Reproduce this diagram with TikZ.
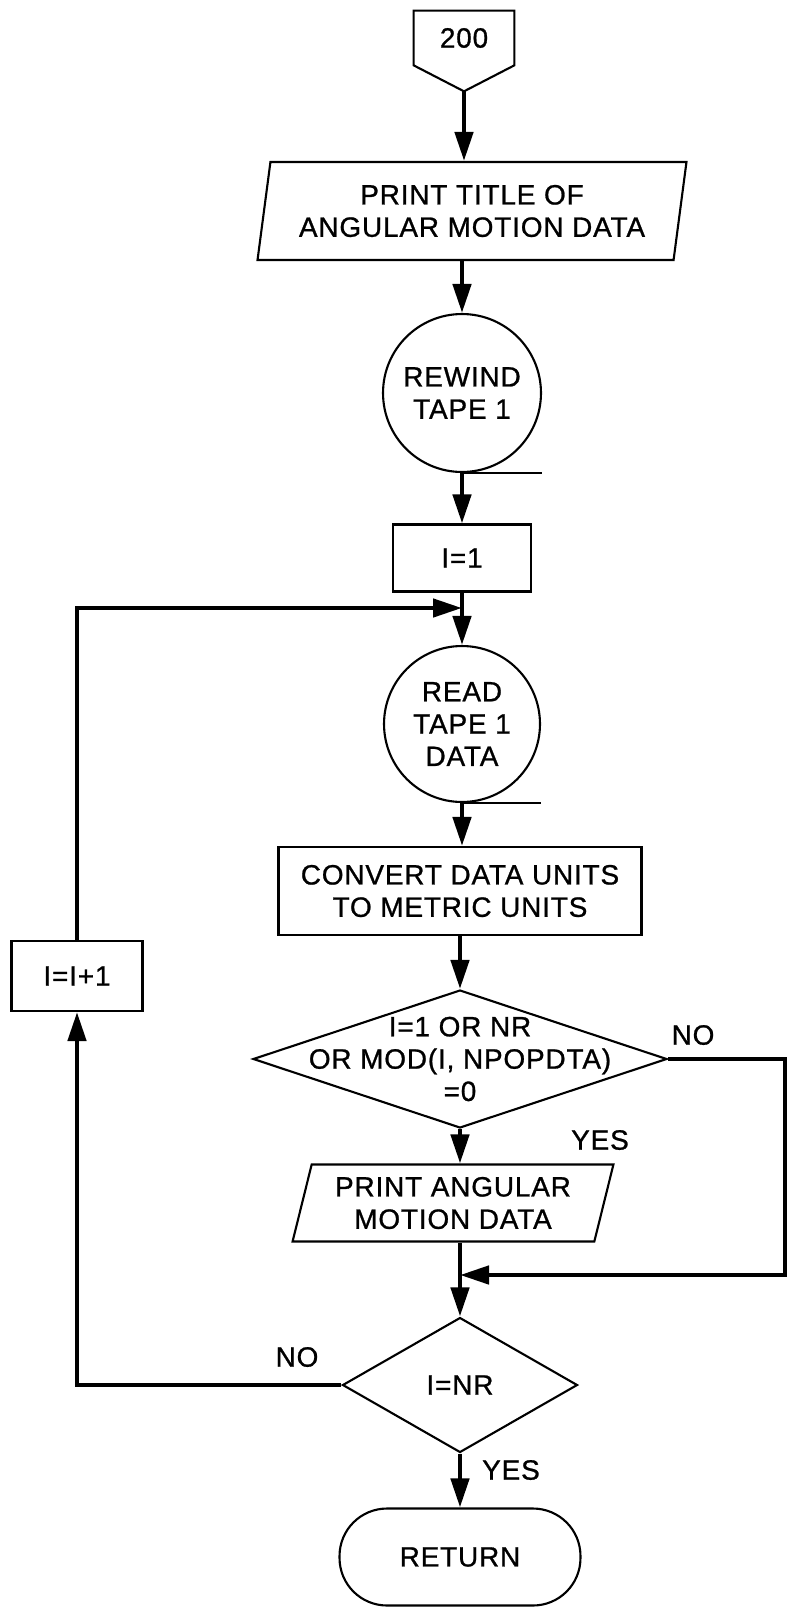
\documentclass[tikz,border=0pt]{standalone}
\usepackage{fontspec}
\setmainfont[LetterSpace=3, FakeBold=0.9]{Liberation Sans}
\usepackage{tikz}
\usetikzlibrary{shapes.geometric, arrows.meta}
\newcommand{\flowfont}{\fontsize{15.9}{18.4}\selectfont}

\begin{document}
\begin{tikzpicture}[
    x=0.02cm, y=-0.02cm,
    txt/.style={inner sep=0pt, align=center, font=\flowfont},
    box/.style={txt, draw, line width=1.2pt},
    io/.style={box, trapezium, trapezium stretches=true},
    tape/.style={box, circle},
    decision/.style={box, diamond},
    terminal/.style={box, rounded corners=0.95cm},
    rim/.style={line width=1.2pt},
    arr/.style={-{Triangle[length=0.58cm, width=0.36cm]}, line width=2.6pt}
  ]
  \useasboundingbox (0,0) rectangle (789,1609);
  % main column
  \node[txt, minimum width=2cm, minimum height=1.08cm] (entry) at (464,38) {200};
  \coordinate (entrytip) at ([yshift=-0.52cm]entry.south);
  \draw[rim] (entry.north west) -- (entry.north east) -- (entry.south east) -- (entrytip) -- (entry.south west) -- cycle;
  \node[io, trapezium left angle=78, trapezium right angle=102, minimum width=8.6cm, minimum height=1.96cm] (title) at (472,211) {PRINT TITLE OF\\ANGULAR MOTION DATA};
  \node[tape, minimum size=3.16cm] (rewind) at (462,393) {REWIND\\TAPE 1};
  \node[box, minimum width=2.76cm, minimum height=1.34cm] (init) at (462,558) {I=1};
  \node[tape, minimum size=3.12cm] (readin) at (462,724) {READ\\TAPE 1\\DATA};
  \node[box, minimum width=7.26cm, minimum height=1.76cm] (convert) at (460,891) {CONVERT DATA UNITS\\TO METRIC UNITS};
  \node[decision, minimum width=8.28cm, minimum height=2.76cm,
        label={[txt]center:{I=1 OR NR\\OR MOD(I, NPOPDTA)\\=0}}] (test1) at (460,1059) {};
  \node[io, trapezium left angle=73, trapezium right angle=107, minimum width=6.42cm, minimum height=1.54cm] (output) at (453,1203) {PRINT ANGULAR\\MOTION DATA};
  \node[decision, minimum width=4.7cm, minimum height=2.7cm] (test2) at (460,1385) {I=NR};
  \node[terminal, minimum width=4.82cm, minimum height=1.94cm] (retn) at (460,1557) {RETURN};
  % loop counter
  \node[box, minimum width=2.62cm, minimum height=1.4cm] (incr) at (77,976) {I=I+1};
  \coordinate (loopin) at (462,608);
  \coordinate (merge) at (460,1275);
  % branch labels
  \node[txt] (no1) at (693,1035) {NO};
  \node[txt] (yes1) at (600,1140) {YES};
  \node[txt] (no2) at (297,1357) {NO};
  \node[txt] (yes2) at (511,1470) {YES};
  % connectors
  \draw[arr] (entrytip) -- (entrytip |- title.north);
  \draw[arr] (title.south -| rewind.north) -- (rewind.north);
  \draw[rim] (rewind.south) -- (rewind.south -| rewind.east);
  \draw[arr] (rewind.south) -- (init.north);
  \draw[arr] (init.south) -- (readin.north);
  \draw[rim] (readin.south) -- (readin.south -| readin.east);
  \draw[arr] (readin.south) -- (readin.south |- convert.north);
  \draw[arr] (convert.south) -- (test1.north);
  \draw[arr] (test1.south) -- (test1.south |- output.north);
  \draw[arr] (test1.east) -- ++(117,0) |- (merge);
  \draw[arr] (output.south -| test2.north) -- (test2.north);
  \draw[arr] (test2.south) -- (retn.north);
  \draw[arr] (test2.west) -| (incr.south);
  \draw[arr] (incr.north) |- (loopin);
\end{tikzpicture}
\end{document}
